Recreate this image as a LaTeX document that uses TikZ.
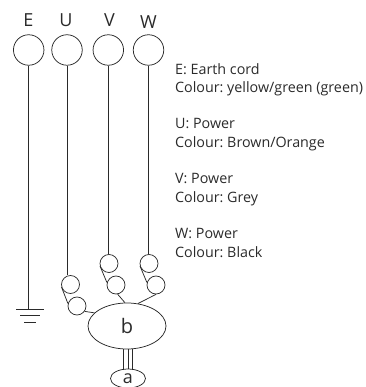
\documentclass[tikz,border=0pt]{standalone}
\usepackage{fontspec}
\setmainfont{Open Sans}
\usetikzlibrary{shapes.geometric}
\definecolor{ink}{HTML}{2A2A2A}
\tikzset{
  x=1pt,y=-1pt,
  wire/.style={draw=ink,line width=0.75pt},
  term/.style={circle,draw=ink,line width=0.75pt,minimum size=30.5pt,inner sep=0pt},
  coil/.style={circle,draw=ink,line width=0.75pt,minimum size=18pt,inner sep=0pt},
  hub/.style={ellipse,draw=ink,line width=0.75pt,inner sep=0pt,text=ink,font=\fontsize{20}{20}\selectfont},
  head/.style={inner sep=0pt,text=ink,font=\fontsize{18}{18}\selectfont},
  note/.style={inner sep=0pt,anchor=north west,align=left,text=ink,font=\frenchspacing\fontsize{14.3}{18.3}\selectfont}
}
\begin{document}
\begin{tikzpicture}
\useasboundingbox (0,0) rectangle (365,387);
\node[head] (lE) at (28.5,20.5) {E};
\node[head] (lU) at (66,20) {U};
\node[head] (lV) at (109.5,20) {V};
\node[head] (lW) at (148.5,22) {W};
\node[term] (E) at (28.7,50) {};
\node[term] (U) at (67,50) {};
\node[term] (V) at (108.3,50) {};
\node[term] (W) at (148.5,50) {};
\coordinate (g1) at (28.7,309);
\coordinate (g1a) at (16,309);\coordinate (g1b) at (44,309);
\coordinate (g2a) at (20,315.5);\coordinate (g2b) at (40,315.5);
\coordinate (g3a) at (24,322);\coordinate (g3b) at (36,322);
\draw[wire] (E.south) -- (g1);
\draw[wire] (g1a) -- (g1b);
\draw[wire] (g2a) -- (g2b);
\draw[wire] (g3a) -- (g3b);
\node[coil] (U1) at (70.5,284.5) {};
\node[coil] (U2) at (77,306) {};
\node[coil] (V1) at (109,263.5) {};
\node[coil] (V2) at (116,285) {};
\node[coil] (W1) at (149,263.5) {};
\node[coil] (W2) at (156,285) {};
\node[hub,minimum width=78pt,minimum height=46pt] (b) at (127,326) {b};
\node[hub,minimum width=35pt,minimum height=19pt,font=\fontsize{18}{18}\selectfont] (a) at (128,378.5) {a};
\draw[wire] (U.south) -- (U.south |- U1.north);
\draw[wire] (V.south) -- (V.south |- V1.north);
\draw[wire] (W.south) -- (W.south |- W1.north);
\draw[wire] (U1.195) -- (U2.165);
\draw[wire] (V1.195) -- (V2.165);
\draw[wire] (W1.195) -- (W2.165);
\draw[wire] (U2.-35) -- (b.158);
\draw[wire] (V2.-80) -- (b.95);
\draw[wire] (W2.-90) -- (b.64);
\coordinate (t1) at (123.3,349);\coordinate (t2) at (128,349);\coordinate (t3) at (132.7,349);
\coordinate (s1) at (123.3,369.5);\coordinate (s2) at (128,369);\coordinate (s3) at (132.7,369.5);
\draw[wire] (t1) -- (s1);
\draw[wire] (t2) -- (s2);
\draw[wire] (t3) -- (s3);
\node[note] (n1) at (175,63.5) {E: Earth cord\\Colour: yellow/green (green)};
\node[note] (n2) at (175,118.5) {U: Power\\Colour: Brown/Orange};
\node[note] (n3) at (175,173.5) {V: Power\\Colour: Grey};
\node[note] (n4) at (175,228.5) {W: Power\\Colour: Black};
\end{tikzpicture}
\end{document}
